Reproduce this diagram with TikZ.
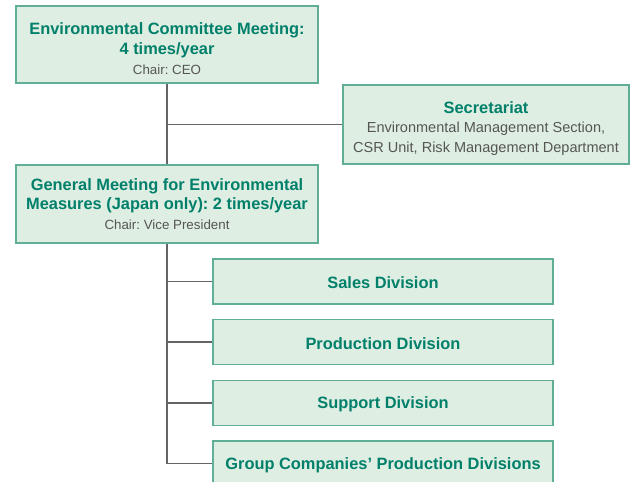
\documentclass[tikz,border=0pt]{standalone}
\usepackage{fontspec}
\setmainfont{Liberation Sans}
\usetikzlibrary{positioning}
\definecolor{envFill}{RGB}{223,238,226}
\definecolor{envBorder}{RGB}{96,174,150}
\definecolor{envText}{RGB}{0,128,106}
\definecolor{envGray}{RGB}{85,85,85}
\definecolor{envLine}{RGB}{100,100,100}
\frenchspacing
\newcommand{\subline}[1]{{\fontsize{10}{14}\selectfont\mdseries\color{envGray}#1}}
\newcommand{\secline}[1]{{\fontsize{10.9}{15}\selectfont\mdseries\color{envGray}#1}}
\tikzset{
  orgbox/.style={rectangle, draw=envBorder, fill=envFill, line width=0.9pt,
    minimum width=226.5pt, minimum height=57.75pt, align=center, text=envText,
    font=\fontsize{12.3}{14.5}\selectfont\bfseries, inner sep=2pt},
  secbox/.style={orgbox, minimum width=214.5pt, minimum height=59.25pt},
  divbox/.style={orgbox, minimum width=255pt, minimum height=33.75pt},
  linkline/.style={draw=envLine, line width=1pt},
}
\begin{document}
\begin{tikzpicture}[x=0.75pt,y=-0.75pt]
  \useasboundingbox (0,0) rectangle (630,481);
  \clip (0,0) rectangle (630,481);

  \node[orgbox] (committee) at (167,44.5) {\rule{0pt}{15pt}Environmental Committee Meeting:\\4 times/year\\[0.5pt]\subline{Chair: CEO}};
  \node[secbox] (secretariat) at (486,124.5) {\rule{0pt}{15pt}Secretariat\\\secline{Environmental Management Section,}\\\secline{CSR Unit, Risk Management Department}};
  \node[orgbox, minimum height=58.5pt] (general) at (167,204) {General Meeting for Environmental\\Measures (Japan only): 2 times/year\\[0.5pt]\subline{Chair: Vice President}};

  \node[divbox] (sales) at (383,281.5) {\rule{0pt}{11pt}Sales Division};
  \node[divbox] (production) at (383,342) {\rule{0pt}{11pt}Production Division};
  \node[divbox] (support) at (383,403) {\rule{0pt}{11pt}Support Division};
  \node[divbox] (group) at (383,463.5) {\rule{0pt}{11pt}Group Companies’ Production Divisions};

  \draw[linkline] (committee.south) -- (general.north);
  \draw[linkline] (committee.south |- secretariat.west) -- (secretariat.west);
  \draw[linkline] (general.south) |- (group.west);
  \draw[linkline] (general.south |- sales.west) -- (sales.west);
  \draw[linkline] (general.south |- production.west) -- (production.west);
  \draw[linkline] (general.south |- support.west) -- (support.west);
\end{tikzpicture}
\end{document}
